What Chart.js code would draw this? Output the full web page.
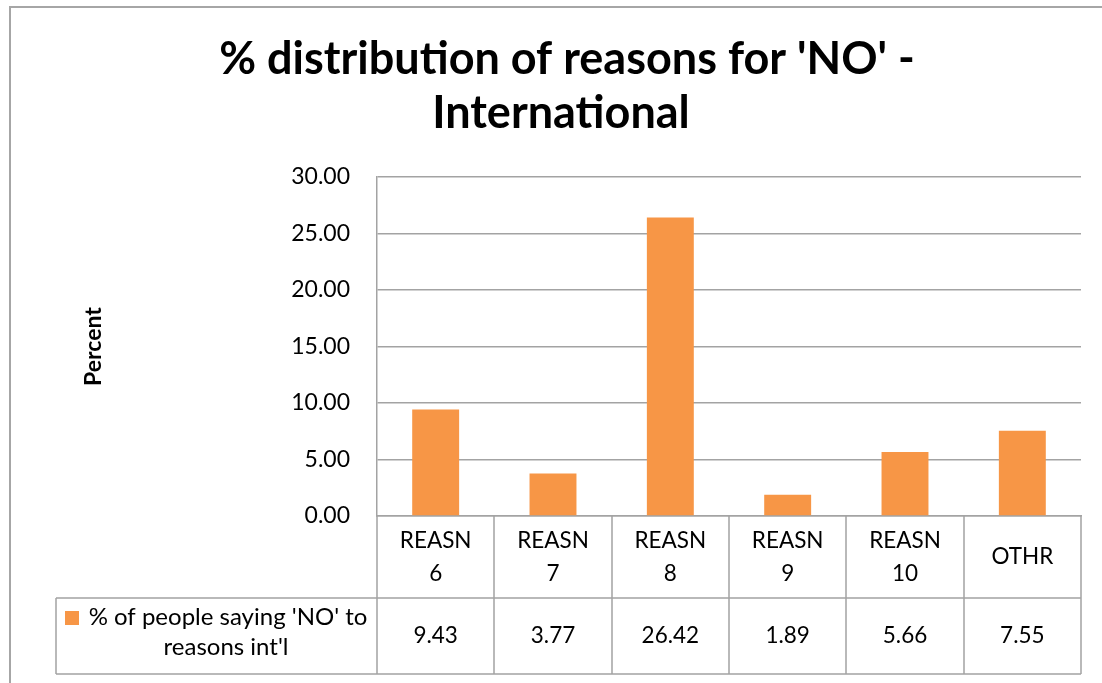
<!DOCTYPE html>
<html>
<head>
<meta charset="utf-8">
<script src="https://cdn.jsdelivr.net/npm/chart.js@4.4.1/dist/chart.umd.min.js"></script>
<style>
  html, body { margin: 0; padding: 0; background: #ffffff; }
  #wrap { width: 1102px; height: 683px; }
</style>
</head>
<body>
<div id="wrap"><canvas id="chart" width="1102" height="683"></canvas></div>
<script>
// Chart text
const titleLines = ["% distribution of reasons for 'NO' -", "International"];
const yAxisTitle = "Percent";
const seriesLabel = ["% of people saying 'NO' to", "reasons int'l"];

// Categories (each entry is the wrapped label shown in the data table)
const categories = [["REASN", "6"], ["REASN", "7"], ["REASN", "8"], ["REASN", "9"], ["REASN", "10"], ["OTHR"]];

// Series values (percent)
const values = [9.43, 3.77, 26.42, 1.89, 5.66, 7.55];

// Value axis range and step
const yMin = 0;
const yMax = 30;
const yStep = 5;

const FONT = "Lato, 'Open Sans', 'Noto Sans', sans-serif";
const BAR_COLOR = "#F79646";
const LINE_COLOR = "#a3a3a3";
const TEXT_COLOR = "#000000";

// Draws the chart frame, the title and the data table beneath the plot
const tablePlugin = {
  id: 'dataTable',
  afterDraw(chart) {
    const ctx = chart.ctx;
    const area = chart.chartArea;
    const x = chart.scales.x;
    const n = categories.length;
    const colW = (area.right - area.left) / n;
    const tableTop = area.bottom;
    const rowSplit = 598;
    const tableBottom = 674;
    const legendLeft = 56;

    ctx.save();

    // outer frame
    ctx.strokeStyle = "#a6a6a6";
    ctx.lineWidth = 2;
    ctx.beginPath();
    ctx.moveTo(10, 700);
    ctx.lineTo(10, 7);
    ctx.lineTo(1110, 7);
    ctx.stroke();

    // title
    ctx.fillStyle = TEXT_COLOR;
    ctx.textAlign = 'center';
    ctx.textBaseline = 'alphabetic';
    ctx.font = "bold 45px " + FONT;
    ctx.fillText(titleLines[0], 567, 74);
    ctx.fillText(titleLines[1], 561, 128);

    // table grid
    ctx.strokeStyle = LINE_COLOR;
    ctx.lineWidth = 1.5;
    ctx.beginPath();
    for (let i = 1; i <= n; i++) {
      const gx = Math.round(area.left + i * colW);
      ctx.moveTo(gx, tableTop);
      ctx.lineTo(gx, tableBottom);
    }
    ctx.moveTo(area.left, tableTop);
    ctx.lineTo(area.left, tableBottom);
    ctx.moveTo(legendLeft, rowSplit);
    ctx.lineTo(area.right, rowSplit);
    ctx.moveTo(legendLeft, tableBottom);
    ctx.lineTo(area.right, tableBottom);
    ctx.moveTo(legendLeft, rowSplit);
    ctx.lineTo(legendLeft, tableBottom);
    ctx.stroke();

    // category labels
    ctx.fillStyle = TEXT_COLOR;
    ctx.font = "22.5px " + FONT;
    ctx.textAlign = 'center';
    ctx.textBaseline = 'middle';
    const labelMid = (tableTop + rowSplit) / 2;
    const lineGap = 33;
    categories.forEach((lines, i) => {
      const cx = x.getPixelForValue(i);
      const startY = labelMid - (lines.length - 1) * lineGap / 2;
      lines.forEach((t, j) => ctx.fillText(t, cx, startY + j * lineGap));
    });

    // values row
    const valueMid = (rowSplit + tableBottom) / 2;
    values.forEach((v, i) => {
      ctx.fillText(v.toFixed(2), x.getPixelForValue(i), valueMid);
    });

    // legend key + series name
    ctx.fillStyle = BAR_COLOR;
    ctx.fillRect(65, 611, 14, 14);
    ctx.fillStyle = TEXT_COLOR;
    ctx.font = "24px " + FONT;
    ctx.textBaseline = 'alphabetic';
    ctx.fillText(seriesLabel[0], 228, 625);
    ctx.fillText(seriesLabel[1], 226, 655);

    ctx.restore();
  }
};

new Chart(document.getElementById('chart'), {
  type: 'bar',
  data: {
    labels: categories,
    datasets: [{
      label: seriesLabel.join(' '),
      data: values,
      backgroundColor: BAR_COLOR,
      borderWidth: 0,
      categoryPercentage: 1.0,
      barPercentage: 0.4
    }]
  },
  options: {
    responsive: false,
    animation: false,
    devicePixelRatio: 1,
    layout: { padding: { top: 177, left: 76, right: 21, bottom: 9 } },
    plugins: {
      legend: { display: false },
      title: { display: false },
      tooltip: { enabled: false }
    },
    scales: {
      x: {
        ticks: { display: false },
        grid: { display: false, drawTicks: false },
        border: { display: true, color: LINE_COLOR, width: 1.5 },
        afterFit(scale) { scale.height = 158; }
      },
      y: {
        min: yMin,
        max: yMax,
        ticks: {
          stepSize: yStep,
          padding: 27,
          color: TEXT_COLOR,
          font: { family: FONT, size: 23 },
          callback: (v) => Number(v).toFixed(2)
        },
        grid: { color: LINE_COLOR, lineWidth: 1.5, drawTicks: false },
        border: { display: true, color: LINE_COLOR, width: 1.5 },
        title: {
          display: true,
          text: yAxisTitle,
          color: TEXT_COLOR,
          font: { family: FONT, size: 23, weight: 'bold' },
          padding: { top: 4, bottom: 0 }
        },
        afterFit(scale) { scale.width = 301; }
      }
    }
  },
  plugins: [tablePlugin]
});
</script>
</body>
</html>
